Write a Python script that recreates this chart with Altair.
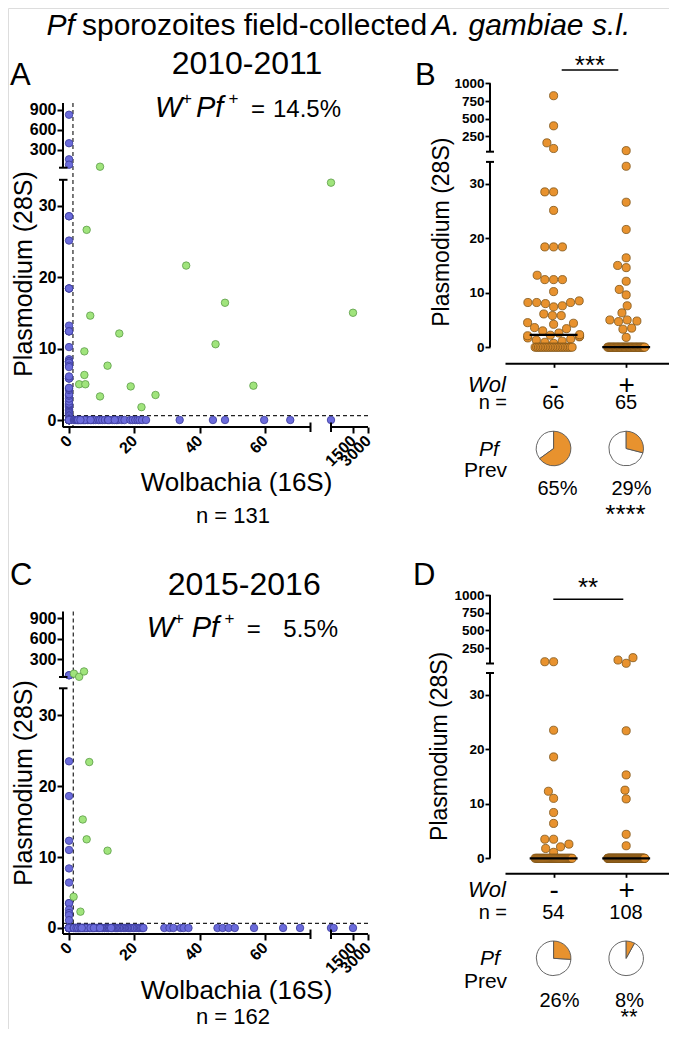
import altair as alt
import numpy as np
import pandas as pd

# ------------------------------------------------------------------ values
TITLE_PARTS = [("Pf", "italic"), ("sporozoites field-collected", "normal"), ("A. gambiae s.l.", "italic")]

# 2010-2011 survey (panels A and B)
A_YEARS = "2010-2011"
A_WP = "14.5%"
A_N = "n = 131"
A_WOLNEG_PF = [825, 400, 160, 80, 28.5, 28.5, 25.1, 18.4, 18.4, 18.4, 13.2, 12.4, 12.4,
               12.4, 10.2, 8.5, 8.2, 8.2, 8.2, 8.0, 7.6, 7.4, 0.7, 0.9, 1.1, 1.3, 1.5, 1.7,
               1.9, 2.0, 2.1, 2.2, 2.3, 2.6, 3.0, 3.4, 3.6, 4.2, 4.4, 4.5, 5.8, 5.8, 6.1]
A_WOLNEG_ZERO = 23
A_POS_WOL = [9.5, 1000, 5.4, 35.9, 47.8, 6.5, 15.4, 44.9, 4.7, 11.8, 4.7, 3.1, 5.0, 9.5,
             26.5, 18.9, 56.5, 22.2, 1500]
A_POS_PF = [50, 33.2, 26.6, 21.6, 16.4, 14.6, 12.1, 10.6, 9.6, 7.6, 6.3, 5.0, 5.0, 3.3,
            3.5, 4.7, 4.8, 1.8, 15.0]
A_WOLPOS_NEG = [1.5, 1.8, 2.1, 2.4, 2.6, 3.0, 3.3, 3.7, 4.0, 4.4, 5.0, 5.6, 6.1, 7.0, 7.5,
                8.2, 9.0, 9.5, 10.2, 11.0, 11.9, 12.5, 13.4, 14.5, 15.0, 16.2, 17.0, 18.8,
                19.5, 20.3, 21.0, 21.6, 22.4, 23.6, 2.8, 4.8, 6.6, 12.0, 14.0, 33.9, 44.1,
                47.8, 59.8, 67.8, 1000, 3.5]
B_N = ["66", "65"]
B_PREV = [65, 29]
B_SIG = "***"
B_PREV_SIG = "****"

# 2015-2016 survey (panels C and D)
C_YEARS = "2015-2016"
C_WP = "5.5%"
C_N = "n = 162"
C_WOLNEG_PF = [60, 60, 23.5, 18.6, 12.3, 11.0, 8.4, 6.4, 3.5, 3.5, 2.6, 2.1, 1.8, 1.1]
C_WOLNEG_ZERO = 40
C_POS_WOL = [1.5, 3.1, 4.6, 6.2, 4.2, 5.4, 11.8, 1.4, 3.5]
C_POS_PF = [84, 38, 117, 23.4, 15.3, 12.5, 10.9, 4.4, 2.3]
C_WOLPOS_NEG = [1.4, 1.6, 1.9, 2.0, 2.2, 2.5, 2.6, 2.9, 3.0, 3.2, 3.3, 3.6, 3.7, 4.0, 4.1,
                4.3, 4.6, 4.8, 4.9, 5.2, 5.4, 5.7, 5.8, 6.1, 6.3, 6.4, 6.8, 7.1, 7.3, 7.4,
                7.8, 8.0, 8.3, 8.6, 8.9, 9.1, 9.4, 9.8, 10.1, 10.3, 10.8, 11.0, 11.4, 11.7,
                12.1, 12.2, 12.6, 13.1, 13.3, 13.8, 14.2, 14.5, 14.9, 15.3, 15.7, 16.1, 16.6,
                16.9, 17.4, 17.8, 18.2, 18.5, 18.9, 19.3, 19.8, 20.2, 20.8, 21.3, 21.7, 22.1,
                22.5, 22.8, 1.5, 2.3, 2.8, 3.5, 4.4, 5.1, 6.6, 7.6, 9.5, 12.9, 3.9,
                29.2, 30.8, 32.0, 34.2, 35.1, 36.6, 45.5, 47.1, 48.9, 50.8, 56.7, 65.6,
                70.8, 1000, 1060, 1500]
D_N = ["54", "108"]
D_PREV = [26, 8]
D_SIG = "**"
D_PREV_SIG = "**"

# thresholds (dashed lines)
A_CUT = (1.2, 0.6)
C_CUT = (1.3, 0.65)

# ------------------------------------------------------------------ styling / layout
FONT = "Liberation Sans"
W, H = 661, 1021
BLUE, BLUE_E = "#6b6bdb", "#3a3a98"
GREEN, GREEN_E = "#a0e47c", "#5c9c48"
ORANGE, ORANGE_E = "#e8922e", "#7e5418"


def P(v):
    return v - 8  # page pixel -> chart pixel


one = pd.DataFrame({"k": [0]})


def txt(t, x, y, size, align="left", style="normal", weight="normal"):
    return alt.Chart(one).mark_text(
        text=t, align=align, baseline="alphabetic", font=FONT, fontSize=size,
        fontStyle=style, fontWeight=weight, color="black"
    ).encode(x=alt.value(P(x)), y=alt.value(P(y)))


def sc(dom, px):
    return alt.Scale(domain=dom, range=[P(v) for v in px], nice=False, zero=False)


X_SCAT_DOM = [-1.85, 74, 1000, 1500, 3000]
X_SCAT_PX = [63, 310.5, 331, 353, 368]


def scatter_panel(wolneg_pf, wolneg_zero, pos_wol, pos_pf, wolpos_neg, ydom, ypx, xaxis_y,
                  yticks, cut, ytitle_y, xtitle_y):
    xs = sc(X_SCAT_DOM, X_SCAT_PX)
    ys = sc(ydom, ypx)
    top_y = ypx[-1]
    blue = pd.DataFrame({
        "wol": [0.0] * len(wolneg_pf) + [0.0] * wolneg_zero + list(wolpos_neg),
        "pf": list(wolneg_pf) + [0.0] * wolneg_zero + [0.0] * len(wolpos_neg),
    })
    green = pd.DataFrame({"wol": pos_wol, "pf": pos_pf})
    xaxis = alt.Axis(
        orient="bottom", offset=P(xaxis_y) - H, values=[0, 20, 40, 60, 1500, 3000], format="d",
        domain=False, grid=False, tickSize=6, tickWidth=2, tickColor="black",
        labelFont=FONT, labelFontSize=16, labelFontWeight="bold", labelColor="black",
        labelAngle=315, labelAlign="right", labelBaseline="middle", labelPadding=5,
        labelFlush=False, labelOverlap=False,
        title="Wolbachia (16S)", titleFont=FONT, titleFontSize=26, titleFontWeight="normal",
        titleColor="black", titleAlign="center", titleBaseline="alphabetic",
        titleX=P(236), titleY=xtitle_y - xaxis_y)
    yaxis = alt.Axis(
        orient="left", offset=-P(63), values=yticks, format="d", domain=False, grid=False,
        tickSize=6, tickWidth=2, tickColor="black",
        labelFont=FONT, labelFontSize=16, labelFontWeight="bold", labelColor="black",
        labelPadding=1, labelAlign="right", labelBaseline="middle", labelOverlap=False,
        labelFlush=False,
        title="Plasmodium (28S)", titleFont=FONT, titleFontSize=25, titleFontWeight="normal",
        titleColor="black", titleAngle=270, titleAlign="center", titleBaseline="alphabetic",
        titleX=P(31) - P(63), titleY=P(ytitle_y))
    cutdf = pd.DataFrame({"wc": [cut[0]], "pc": [cut[1]]})
    layers = [
        alt.Chart(cutdf).mark_rule(strokeDash=[4, 3], strokeWidth=1.2, color="#222").encode(
            x=alt.X("wc:Q", scale=xs, axis=None), y=alt.value(P(top_y)), y2=alt.value(P(xaxis_y))),
        alt.Chart(cutdf).mark_rule(strokeDash=[4, 3], strokeWidth=1.2, color="#222").encode(
            y=alt.Y("pc:Q", scale=ys, axis=None), x=alt.value(P(63)), x2=alt.value(P(368))),
        alt.Chart(blue).mark_circle(size=56, opacity=1, fill=BLUE, stroke=BLUE_E, strokeWidth=0.8).encode(
            x=alt.X("wol:Q", scale=xs, axis=xaxis), y=alt.Y("pf:Q", scale=ys, axis=yaxis)),
        alt.Chart(green).mark_circle(size=56, opacity=1, fill=GREEN, stroke=GREEN_E, strokeWidth=0.8).encode(
            x=alt.X("wol:Q", scale=xs, axis=None), y=alt.Y("pf:Q", scale=ys, axis=None)),
    ]
    # broken axis lines
    yseg = pd.DataFrame({"a": [ydom[0], ydom[2]], "b": [ydom[1], ydom[3]]})
    layers.append(alt.Chart(yseg).mark_rule(color="black", strokeWidth=2).encode(
        y=alt.Y("a:Q", scale=ys, axis=None), y2="b:Q", x=alt.value(P(63))))
    ycap = pd.DataFrame({"c": [ydom[1], ydom[2]]})
    layers.append(alt.Chart(ycap).mark_rule(color="black", strokeWidth=2).encode(
        y=alt.Y("c:Q", scale=ys, axis=None), x=alt.value(P(59)), x2=alt.value(P(67.5))))
    xseg = pd.DataFrame({"a": [X_SCAT_DOM[0], X_SCAT_DOM[2]], "b": [X_SCAT_DOM[1], X_SCAT_DOM[4]]})
    layers.append(alt.Chart(xseg).mark_rule(color="black", strokeWidth=2).encode(
        x=alt.X("a:Q", scale=xs, axis=None), x2="b:Q", y=alt.value(P(xaxis_y))))
    xcap = pd.DataFrame({"c": [X_SCAT_DOM[1], X_SCAT_DOM[2]]})
    layers.append(alt.Chart(xcap).mark_rule(color="black", strokeWidth=2).encode(
        x=alt.X("c:Q", scale=xs, axis=None), y=alt.value(P(xaxis_y - 4.5)), y2=alt.value(P(xaxis_y + 5))))
    return layers


X_STRIP_DOM = [0.33, 2.59]
X_STRIP_PX = [505, 669]
PX_PER_GROUP = (X_STRIP_PX[1] - X_STRIP_PX[0]) / (X_STRIP_DOM[1] - X_STRIP_DOM[0])


def swarm(vals, ymap, d=8.8, zero_w=37.0, lim=26.0):
    offs = [0.0] * len(vals)
    zi = [i for i, v in enumerate(vals) if v == 0]
    nz = len(zi)
    for k, i in enumerate(zi):
        offs[i] = (k - (nz - 1) / 2.0) * (zero_w / (nz - 1) if nz > 1 else 0.0)
    placed = []
    for i in sorted([i for i, v in enumerate(vals) if v != 0], key=lambda j: vals[j]):
        y = float(ymap(vals[i]))
        cands = [0.0]
        for px, py in placed:
            dy = abs(py - y)
            if dy < d:
                dx = (d * d - dy * dy) ** 0.5
                cands += [px + dx + 0.01, px - dx - 0.01]
        cands.sort(key=lambda c: (abs(c), c))
        best = cands[-1]
        for c in cands:
            if all((c - px) ** 2 + (y - py) ** 2 >= d * d - 0.05 for px, py in placed):
                best = c
                break
        best = max(-lim, min(lim, best))
        offs[i] = best
        placed.append((best, y))
    return offs


def strip_panel(left, right, ydom, ypx, xaxis_y, yticks, ytitle_x, ytitle_y, label_base,
                prev, pie_y, sig_y, sig_x):
    xs = sc(X_STRIP_DOM, X_STRIP_PX)
    ys = sc(ydom, ypx)
    ymap = lambda v: np.interp(v, ydom, ypx)
    rows = []
    for g, vals in ((1, left), (2, right)):
        offs = swarm(vals, ymap)
        for v, o in zip(vals, offs):
            rows.append({"grp": g, "value": v, "xpos": g + o / PX_PER_GROUP})
    df = pd.DataFrame(rows)
    xaxis = alt.Axis(
        orient="bottom", offset=P(xaxis_y) - H, values=[1, 2],
        labelExpr="datum.value == 1 ? '-' : '+'", domain=True, domainWidth=2,
        domainColor="black", grid=False, tickSize=4, tickWidth=1.8, tickColor="black",
        labelFont=FONT, labelFontSize=28, labelColor="black", labelAlign="center",
        labelBaseline="alphabetic", labelPadding=label_base - xaxis_y - 4, labelFlush=False,
        title=None)
    yaxis = alt.Axis(
        orient="left", offset=-P(490), values=yticks, format="d", domain=False, grid=False,
        tickSize=5, tickWidth=1.8, tickColor="black",
        labelFont=FONT, labelFontSize=13.5, labelFontWeight="bold", labelColor="black",
        labelPadding=1, labelAlign="right", labelBaseline="middle", labelOverlap=False,
        labelFlush=False,
        title="Plasmodium (28S)", titleFont=FONT, titleFontSize=23, titleFontWeight="normal",
        titleColor="black", titleAngle=270, titleAlign="center", titleBaseline="alphabetic",
        titleX=P(ytitle_x) - P(490), titleY=P(ytitle_y))
    th = alt.Scale(domain=[0, 100], range=[0, 6.2832])
    yseg = pd.DataFrame({"a": [ydom[0], ydom[2]], "b": [ydom[1], ydom[3]]})
    ycap = pd.DataFrame({"c": [ydom[1], ydom[2]]})
    layers = [
        alt.Chart(df).mark_circle(size=66, opacity=1, fill=ORANGE, stroke=ORANGE_E, strokeWidth=0.8).encode(
            x=alt.X("xpos:Q", scale=xs, axis=xaxis), y=alt.Y("value:Q", scale=ys, axis=yaxis)),
        alt.Chart(df).transform_aggregate(med="median(value)", groupby=["grp"]).transform_calculate(
            xa="datum.grp - 0.33", xb="datum.grp + 0.33").mark_rule(color="black", strokeWidth=2.2).encode(
            x=alt.X("xa:Q", scale=xs, axis=None), x2="xb:Q", y=alt.Y("med:Q", scale=ys, axis=None)),
        alt.Chart(yseg).mark_rule(color="black", strokeWidth=2).encode(
            y=alt.Y("a:Q", scale=ys, axis=None), y2="b:Q", x=alt.value(P(490))),
        alt.Chart(ycap).mark_rule(color="black", strokeWidth=2).encode(
            y=alt.Y("c:Q", scale=ys, axis=None), x=alt.value(P(486)), x2=alt.value(P(494))),
        alt.Chart(one).mark_rule(color="black", strokeWidth=1.6).encode(
            x=alt.value(P(sig_x[0])), x2=alt.value(P(sig_x[1])), y=alt.value(P(sig_y))),
    ]
    # one pie per group: negative (white) and positive (orange) share of Pf prevalence
    for g, p in ((1, prev[0]), (2, prev[1])):
        neg = pd.DataFrame({"grp": [g], "t0": [p], "t1": [100]})
        pos = pd.DataFrame({"grp": [g], "t0": [0], "t1": [p]})
        for d, fill in ((neg, "white"), (pos, ORANGE)):
            layers.append(alt.Chart(d).mark_arc(radius=17.3, fill=fill, stroke="#555", strokeWidth=0.9).encode(
                x=alt.X("grp:Q", scale=xs, axis=None), y=alt.value(P(pie_y)),
                theta=alt.Theta("t0:Q", scale=th, stack=None), theta2="t1:Q"))
    return layers


# ------------------------------------------------------------------ panels
panelA = scatter_panel(A_WOLNEG_PF, A_WOLNEG_ZERO, A_POS_WOL, A_POS_PF, A_WOLPOS_NEG,
                       [-1, 33.6, 35, 1000], [427.15, 179.8, 167.7, 103], 427,
                       [0, 10, 20, 30, 300, 600, 900], A_CUT, 273.5, 490)
panelC = scatter_panel(C_WOLNEG_PF, C_WOLNEG_ZERO, C_POS_WOL, C_POS_PF, C_WOLPOS_NEG,
                       [-0.85, 33.8, 35, 1000], [934, 688.3, 677, 611.5], 934,
                       [0, 10, 20, 30, 300, 600, 900], C_CUT, 782.5, 998.3)
panelB = strip_panel(A_WOLNEG_PF + [0] * A_WOLNEG_ZERO, A_POS_PF + [0] * len(A_WOLPOS_NEG),
                     [0, 34, 35, 1000], [347.2, 161.9, 151.7, 83.3], 363.3,
                     [0, 10, 20, 30, 250, 500, 750, 1000], 448, 231.7, 393.5,
                     B_PREV, 448.5, 70, (561.7, 618.3))
panelD = strip_panel(C_WOLNEG_PF + [0] * C_WOLNEG_ZERO, C_POS_PF + [0] * len(C_WOLPOS_NEG),
                     [0, 34, 35, 1000], [858.3, 673, 663.5, 595], 873.3,
                     [0, 10, 20, 30, 250, 500, 750, 1000], 446, 745.8, 898.5,
                     D_PREV, 958.3, 599.3, (553.3, 623.3))

texts = [
    # figure title
    txt(TITLE_PARTS[0][0], 46.6, 35, 30, style=TITLE_PARTS[0][1]),
    txt(TITLE_PARTS[1][0], 82, 35, 30, style=TITLE_PARTS[1][1]),
    txt(TITLE_PARTS[2][0], 431.8, 35, 30, style=TITLE_PARTS[2][1]),
    # A
    txt("A", 10, 85, 31),
    txt(A_YEARS, 247, 74, 32, align="center"),
    txt("W", 155, 116.7, 29, style="italic"),
    txt("+", 182, 104, 17),
    txt("Pf", 196, 116.7, 29, style="italic"),
    txt("+", 228.5, 104, 17),
    txt("=", 251, 116.7, 24),
    txt(A_WP, 273, 116.7, 24),
    txt(A_N, 233, 523, 22, align="center"),
    # B
    txt("B", 415, 85, 31),
    txt(B_SIG, 590, 74, 26, align="center"),
    txt("Wol", 468, 392, 22, style="italic"),
    txt("n =", 507, 409, 20, align="right"),
    txt(B_N[0], 553.3, 409, 20, align="center"),
    txt(B_N[1], 626, 409, 20, align="center"),
    txt("Pf", 489, 456, 21, align="center", style="italic"),
    txt("Prev", 485.5, 477, 21, align="center"),
    txt(f"{B_PREV[0]}%", 557.5, 495, 20, align="center"),
    txt(f"{B_PREV[1]}%", 631.5, 495, 20, align="center"),
    txt(B_PREV_SIG, 625.5, 523, 26, align="center"),
    # C
    txt("C", 10, 585, 31),
    txt(C_YEARS, 244.2, 595, 32, align="center"),
    txt("W", 146.7, 636.7, 29, style="italic"),
    txt("+", 174, 624, 17),
    txt("Pf", 191.7, 636.7, 29, style="italic"),
    txt("+", 224.5, 624, 17),
    txt("=", 246.7, 636.7, 24),
    txt(C_WP, 283.3, 636.7, 24),
    txt(C_N, 233, 1023.5, 22, align="center"),
    # D
    txt("D", 413, 585, 31),
    txt(D_SIG, 588, 596, 26, align="center"),
    txt("Wol", 468, 897, 22, style="italic"),
    txt("n =", 507, 919, 20, align="right"),
    txt(D_N[0], 553.3, 919, 20, align="center"),
    txt(D_N[1], 626, 919, 20, align="center"),
    txt("Pf", 490, 965, 21, align="center", style="italic"),
    txt("Prev", 485.5, 988.3, 21, align="center"),
    txt(f"{D_PREV[0]}%", 559.5, 1006.7, 20, align="center"),
    txt(f"{D_PREV[1]}%", 629.5, 1006.7, 20, align="center"),
    txt(D_PREV_SIG, 629, 1024, 22, align="center"),
]

chart = alt.layer(*panelA, *panelB, *panelC, *panelD, *texts).resolve_scale(
    x="independent", y="independent", theta="independent"
).resolve_axis(
    x="independent", y="independent"
).properties(
    width=W, height=H, padding=0, autosize=alt.AutoSizeParams(type="none")
).configure_view(stroke=None).configure(background="white")

chart.save("out.html", embed_options={"renderer": "svg", "actions": False})
